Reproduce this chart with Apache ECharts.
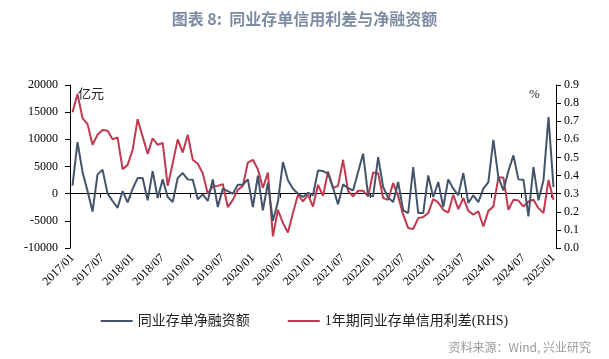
<!DOCTYPE html>
<html>
<head>
<meta charset="utf-8">
<script src="https://cdn.jsdelivr.net/npm/echarts@6/dist/echarts.min.js"></script>
<style>html,body{margin:0;padding:0;background:#fff;}#c{width:609px;height:359px;}</style>
</head>
<body>
<div id="c"></div>
<script>
// categories: monthly 2017/01 .. 2025/01
var categories = [];
for (var y = 2017; y <= 2025; y++) {
  for (var m = 1; m <= 12; m++) {
    if (y === 2025 && m > 1) break;
    categories.push(y + '/' + (m < 10 ? '0' + m : m));
  }
}
// 同业存单净融资额 (亿元)
var netFinancing = [
  1500, 9500, 4000, 500, -3300, 3550, 4400, 0, -1350, -2600, 480, -1600,
  900, 2870, 2870, -1230, 4150, -800, 2630, -620, -1540, 2870, 3790, 2630,
  2570, -1050, -130, -1350, 2630, -2460, 910, 480, 0, 1650, 1650, 2630,
  -2460, 3300, -3070, 2000, -5000, -1500, 5810, 2450, 910, 0, -610, 180,
  -300, 4280, 4160, 3670, 1100, -1970, 1710, 1000, 600, 3980, 7350, -300,
  -500, 6730, 1220, -740, -1540, 2140, -3070, -3560, 4900, -3560, -3560, 3360,
  -610, 2140, -2460, 2630, 910, -300, 3790, -1720, -300, -1540, 910, 2140,
  9920, 3060, 600, 4160, 7040, 2630, 2570, -4170, 4900, -1230, 2450, 14080,
  1220
];
// 1年期同业存单信用利差 (%)
var creditSpread = [
  0.75, 0.85, 0.717, 0.684, 0.57, 0.625, 0.652, 0.648, 0.60, 0.61, 0.435, 0.459,
  0.542, 0.711, 0.615, 0.52, 0.606, 0.57, 0.58, 0.343, 0.468, 0.60, 0.527, 0.625,
  0.487, 0.465, 0.413, 0.30, 0.34, 0.343, 0.353, 0.226, 0.266, 0.321, 0.343, 0.472,
  0.487, 0.435, 0.331, 0.417, 0.064, 0.211, 0.138, 0.086, 0.193, 0.294, 0.257, 0.294,
  0.229, 0.349, 0.288, 0.422, 0.331, 0.343, 0.487, 0.315, 0.285, 0.316, 0.316, 0.285,
  0.417, 0.413, 0.276, 0.266, 0.358, 0.285, 0.184, 0.11, 0.105, 0.165, 0.171, 0.193,
  0.27, 0.251, 0.211, 0.196, 0.294, 0.215, 0.276, 0.206, 0.184, 0.202, 0.119, 0.205,
  0.229, 0.389, 0.389, 0.211, 0.266, 0.262, 0.229, 0.257, 0.266, 0.22, 0.193, 0.376,
  0.266
];
var leftTicks = {min: -10000, max: 20000, interval: 5000};
var rightTicks = {min: 0, max: 0.9, interval: 0.1};

var serif = "'Liberation Serif', 'Noto Sans CJK SC', serif";
var chart = echarts.init(document.getElementById('c'), null, {renderer: 'canvas'});
chart.setOption({
  animation: false,
  backgroundColor: '#fff',
  title: {
    text: '图表 8:  同业存单信用利差与净融资额',
    left: 'center', top: 6,
    textStyle: {color: '#7d8ca3', fontSize: 16, fontWeight: 'bold', fontFamily: "'Noto Sans CJK SC', sans-serif"}
  },
  grid: {left: 70, right: 53, top: 85, bottom: 111},
  legend: {
    top: 309, left: 'center', itemGap: 38, itemWidth: 32, itemHeight: 2, icon: 'rect',
    textStyle: {fontFamily: serif, fontSize: 14, color: '#222'},
    data: ['同业存单净融资额', '1年期同业存单信用利差(RHS)']
  },
  graphic: [
    {type: 'text', left: 78, top: 87, style: {text: '亿元', font: "13px 'Noto Sans CJK SC'", fill: '#222'}},
    {type: 'text', left: 529, top: 88, style: {text: '%', font: "13px 'Liberation Serif'", fill: '#222'}},
    {type: 'text', right: 18, top: 341, style: {text: '资料来源：Wind, 兴业研究', font: "12px 'Noto Sans CJK SC'", fill: '#9a9a9a'}}
  ],
  xAxis: [
    {
      type: 'category', data: categories, boundaryGap: true,
      axisLine: {show: false}, axisTick: {show: false}, splitLine: {show: false},
      axisLabel: {interval: 5, rotate: 45, fontFamily: serif, fontSize: 12, color: '#000', margin: 8}
    },
    {
      type: 'category', data: categories, boundaryGap: true, position: 'bottom',
      axisLine: {show: true, onZero: true, onZeroAxisIndex: 0, lineStyle: {color: '#000', width: 1}},
      axisTick: {show: true, interval: 5, length: 4, lineStyle: {color: '#000'}},
      axisLabel: {show: false}, splitLine: {show: false}
    }
  ],
  yAxis: [
    {
      type: 'value', min: leftTicks.min, max: leftTicks.max, interval: leftTicks.interval,
      axisLine: {show: true, lineStyle: {color: '#000', width: 1}},
      axisTick: {show: true, length: 5, lineStyle: {color: '#000'}},
      splitLine: {show: false},
      axisLabel: {fontFamily: serif, fontSize: 12, color: '#000', margin: 12, formatter: function (v) { return String(v); }}
    },
    {
      type: 'value', position: 'right', min: rightTicks.min, max: rightTicks.max, interval: rightTicks.interval,
      axisLine: {show: true, lineStyle: {color: '#000', width: 1}},
      axisTick: {show: true, length: 5, lineStyle: {color: '#000'}},
      splitLine: {show: false},
      axisLabel: {fontFamily: serif, fontSize: 12, color: '#000', margin: 8, formatter: function (v) { return v.toFixed(1); }}
    }
  ],
  series: [
    {
      name: '同业存单净融资额', type: 'line', xAxisIndex: 0, yAxisIndex: 0,
      data: netFinancing, symbol: 'none', lineStyle: {color: '#44546a', width: 2}, itemStyle: {color: '#44546a'}, z: 3
    },
    {
      name: '1年期同业存单信用利差(RHS)', type: 'line', xAxisIndex: 0, yAxisIndex: 1,
      data: creditSpread, symbol: 'none', lineStyle: {color: '#c0394f', width: 2}, itemStyle: {color: '#c0394f'}, z: 2
    }
  ]
});
</script>
</body>
</html>
